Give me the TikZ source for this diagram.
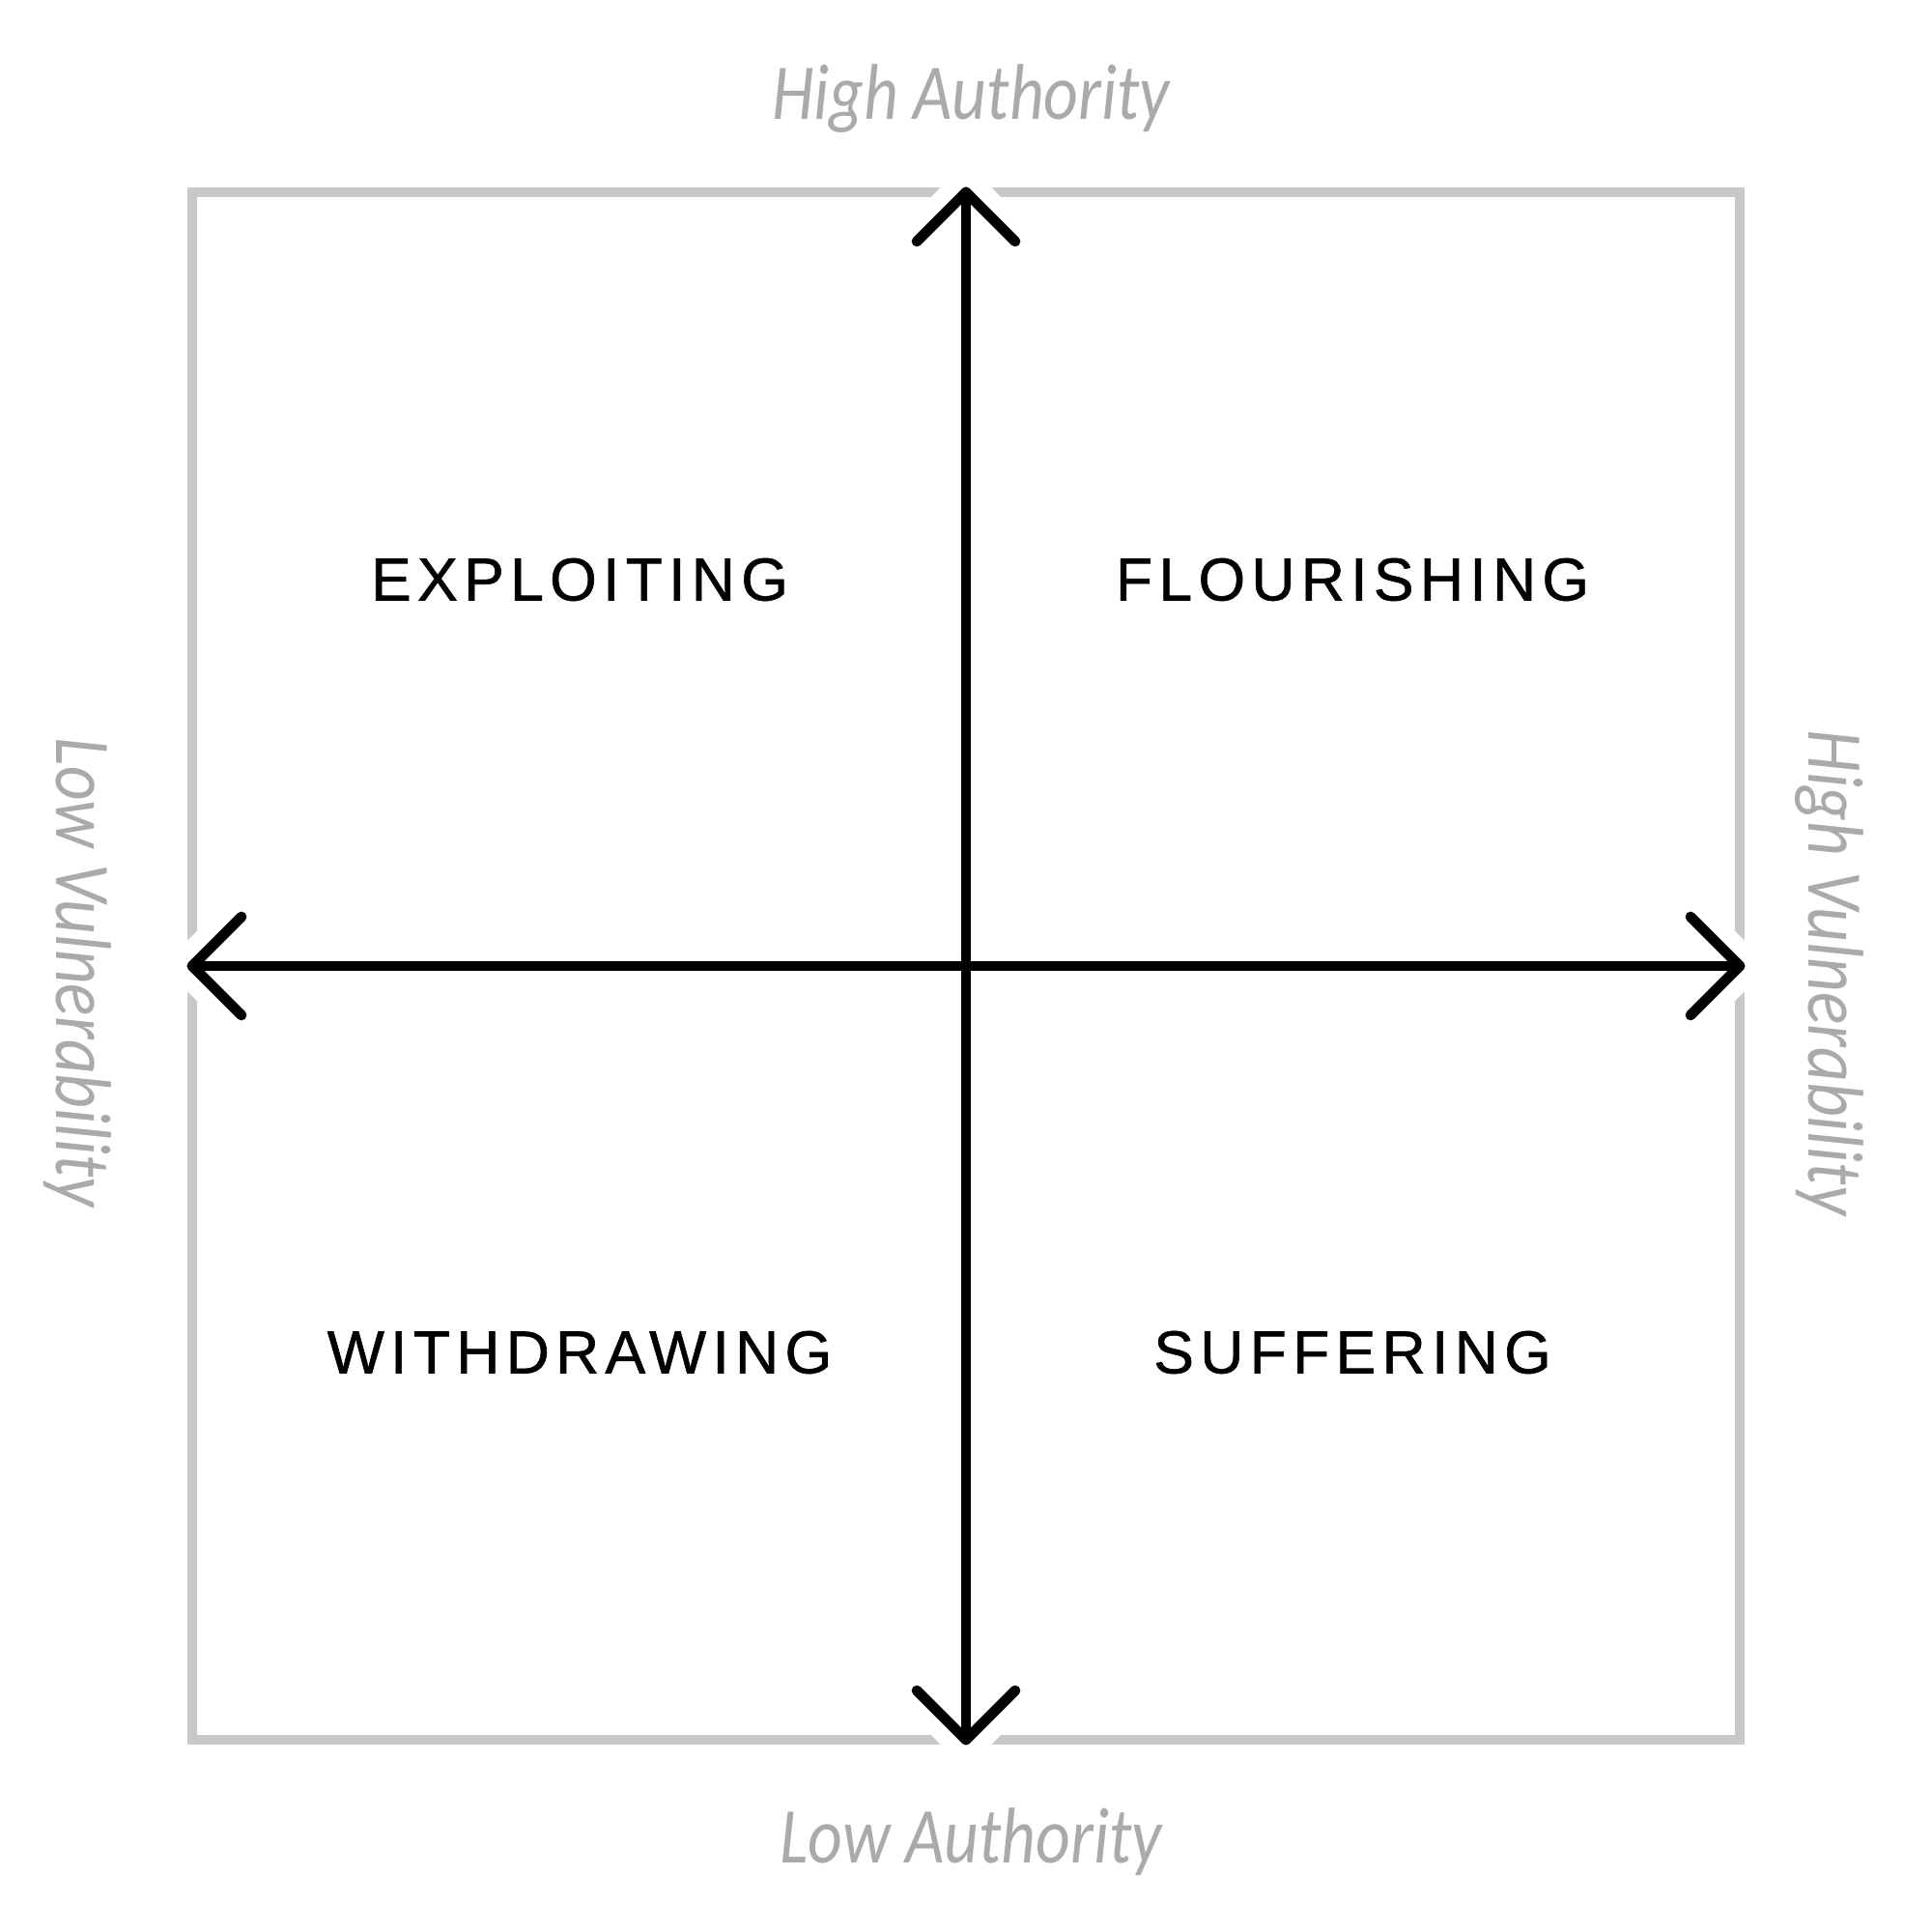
\documentclass[tikz,border=0pt]{standalone}
\usepackage{fontspec}
\usetikzlibrary{calc}
\newfontfamily\axisfont{Carlito}[FakeStretch=0.85]
\newfontfamily\quadfont{Liberation Sans}[LetterSpace=10,FakeBold=0.9]
\definecolor{framegray}{HTML}{C8C8C8}
\definecolor{axisgray}{HTML}{AAAAAA}

\begin{document}
\begin{tikzpicture}[
  axislbl/.style={text=axisgray,font=\axisfont\itshape\fontsize{23.3}{28}\selectfont},
  quadlbl/.style={font=\quadfont\fontsize{17.8}{20}\selectfont},
  halo/.style={white,line width=0.44cm,line cap=round,line join=round},
  axisline/.style={black,line width=3.1pt,line cap=round,line join=round}]
\useasboundingbox (0,0) rectangle (20,20);
\draw[framegray,line width=2.85pt] (1.99,1.99) rectangle (18.01,18.01);
% axis ends
\coordinate (top) at (10,18.01);
\coordinate (bot) at (10,1.99);
\coordinate (lft) at (1.99,10);
\coordinate (rgt) at (18.01,10);
\foreach \t/\r in {top/90,bot/-90,lft/180,rgt/0}
  \draw[halo] ($(\t)+(\r+135:0.72)$) -- (\t) -- ($(\t)+(\r-135:0.72)$);
\draw[axisline] (bot) -- (top) (lft) -- (rgt);
\foreach \t/\r in {top/90,bot/-90,lft/180,rgt/0}
  \draw[axisline] ($(\t)+(\r+135:0.72)$) -- (\t) -- ($(\t)+(\r-135:0.72)$);
% quadrants
\node[quadlbl] (exploit) at (6,14) {EXPLOITING};
\node[quadlbl] (flourish) at (14,14) {FLOURISHING};
\node[quadlbl] (withdraw) at (6,6) {WITHDRAWING};
\node[quadlbl] (suffer) at (14,6) {SUFFERING};
% axis labels
\node[axislbl] (highauth) at (10.05,18.98) {High Authority};
\node[axislbl] (lowauth) at (10.05,0.93) {Low Authority};
\node[axislbl,rotate=-90] (lowvuln) at (0.8,9.93) {Low Vulnerability};
\node[axislbl,rotate=-90] (highvuln) at (18.94,9.93) {High Vulnerability};
\end{tikzpicture}
\end{document}
